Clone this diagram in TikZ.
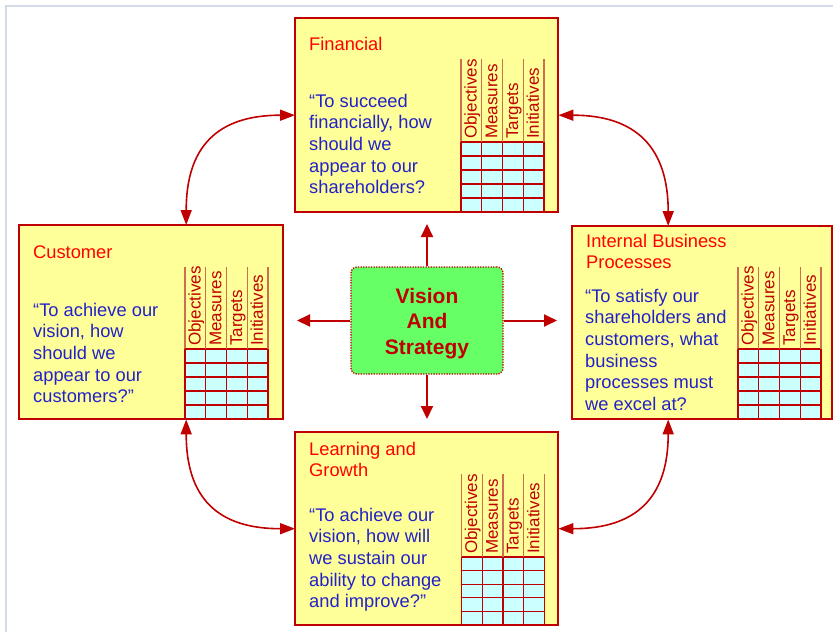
\documentclass[tikz,border=0pt]{standalone}
\usepackage{fontspec}
\setmainfont{Liberation Sans}
\usetikzlibrary{arrows.meta}
\definecolor{bscred}{RGB}{192,0,0}
\definecolor{bscyellow}{RGB}{255,255,153}
\definecolor{bsccyan}{RGB}{204,255,255}
\definecolor{bscgreen}{RGB}{102,255,102}
\definecolor{bsctitle}{RGB}{255,0,0}
\definecolor{bscblue}{RGB}{34,34,200}
\definecolor{bschdr}{RGB}{205,110,80}
\definecolor{bscframe}{RGB}{210,220,232}
\newcommand{\qfont}{\fontsize{18.3}{21.7}\selectfont}
\newcommand{\vfont}{\fontsize{21}{25.5}\selectfont\bfseries}
\newcommand{\bscgrid}[5]{%
  \fill[bsccyan] (#1,#3) rectangle ({#1+83},#4);
  \foreach \i in {0,1,2,3,4}{%
    \draw[hdrline] ({#1+20.75*\i},#2) -- ({#1+20.75*\i},#3);
    \draw[gridline] ({#1+20.75*\i},#3) -- ({#1+20.75*\i},#4);
    \draw[gridline] (#1,{#3+(#4-#3)*\i/5}) -- ({#1+83},{#3+(#4-#3)*\i/5});
  }
  \foreach \lab [count=\k from 0] in {Objectives,Measures,Targets,Initiatives}{%
    \node[collabel] (#5-col\k) at ({#1+20.75*\k+15.5},{#3-3}) {\lab};
  }
}
\tikzset{
  boxfill/.style={fill=bscyellow, draw=none, inner sep=0, anchor=north west},
  boxborder/.style={draw=bscred, line width=2pt},
  hdrline/.style={draw=bschdr, line width=1.2pt},
  gridline/.style={draw=bscred, line width=1.1pt},
  collabel/.style={rotate=90, anchor=base west, inner sep=0, text=bscred, font=\fontsize{17}{19}\selectfont},
  ttl/.style={text=bsctitle, font=\qfont, inner sep=0, anchor=north west, align=left},
  qt/.style={text=bscblue, font=\qfont, inner sep=0, anchor=north west, align=left},
  visionbox/.style={draw=bscred, fill=bscgreen, rounded corners=6pt, line width=1.3pt,
    dash pattern=on 1.3pt off 1.3pt, minimum width=152pt, minimum height=107pt,
    text=bscred, font=\vfont, align=center},
  centerarrow/.style={draw=bscred, line width=2pt, -{Triangle[length=13pt,width=12pt]}},
  curvearrow/.style={draw=bscred, line width=1.6pt,
    {Triangle[length=15pt,width=11pt]}-{Triangle[length=15pt,width=11pt]}}
}
\begin{document}
\begin{tikzpicture}[x=1pt,y=-1pt]
\useasboundingbox (0,0) rectangle (833,632);
\draw[bscframe, line width=2pt] (6,632) -- (6,6) -- (833,6);

% boxes
\node[boxfill, minimum width=263pt, minimum height=194pt] (fin) at (295,18) {};
\node[boxfill, minimum width=264pt, minimum height=194pt] (cust) at (19,225) {};
\node[boxfill, minimum width=260pt, minimum height=193pt] (int) at (572,226) {};
\node[boxfill, minimum width=263pt, minimum height=193pt] (learn) at (295,432) {};

\bscgrid{461}{59}{142}{212}{fin}
\bscgrid{185}{267}{349}{419}{cust}
\bscgrid{738}{267}{349}{419}{int}
\bscgrid{461.5}{474}{557}{625}{learn}

\draw[boxborder] (fin.north west) rectangle (fin.south east);
\draw[boxborder] (cust.north west) rectangle (cust.south east);
\draw[boxborder] (int.north west) rectangle (int.south east);
\draw[boxborder] (learn.north west) rectangle (learn.south east);

% titles
\node[ttl] (fin-title) at (309,34.8) {\strut Financial};
\node[ttl] (cust-title) at (33,242.8) {\strut Customer};
\node[ttl] (int-title) at (586,231.8) {\strut Internal Business\\Processes};
\node[ttl] (learn-title) at (309,439.8) {\strut Learning and\\Growth};

% questions
\node[qt] (fin-q) at (309,91.8) {\strut “To succeed\\financially, how\\should we\\appear to our\\shareholders?};
\node[qt] (cust-q) at (33,300.8) {\strut “To achieve our\\vision, how\\should we\\appear to our\\customers?”};
\node[qt] (int-q) at (585,286.8) {\strut “To satisfy our\\shareholders and\\customers, what\\business\\processes must\\we excel at?};
\node[qt] (learn-q) at (309,505.8) {\strut “To achieve our\\vision, how will\\we sustain our\\ability to change\\and improve?”};

% center
\node[visionbox] (vision) at (427,320.5) {\rule{0pt}{21pt}Vision\\And\\Strategy};
\coordinate (tipN) at (427,224);
\coordinate (tipS) at (427,419);
\coordinate (tipW) at (297,320.5);
\coordinate (tipE) at (557,320.5);
\draw[centerarrow] (vision.north) -- (tipN);
\draw[centerarrow] (vision.south) -- (tipS);
\draw[centerarrow] (vision.west) -- (tipW);
\draw[centerarrow] (vision.east) -- (tipE);

% curved connectors
\draw[curvearrow] ([xshift=35pt]cust.north) .. controls +(0,-78) and +(-78,0) .. (fin.west);
\draw[curvearrow] (fin.east) .. controls +(78,0) and +(0,-78) .. ([xshift=-34pt]int.north);
\draw[curvearrow] ([xshift=35pt]cust.south) .. controls +(0,78) and +(-78,0) .. (learn.west);
\draw[curvearrow] ([xshift=-34pt]int.south) .. controls +(0,78) and +(78,0) .. (learn.east);
\end{tikzpicture}
\end{document}
